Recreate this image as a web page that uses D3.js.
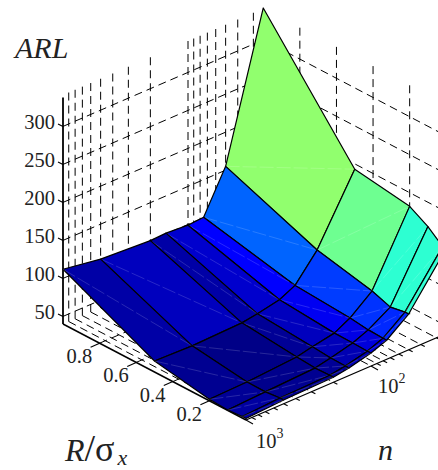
<!DOCTYPE html>
<html>
<head>
<meta charset="utf-8">
<script src="https://cdn.jsdelivr.net/npm/d3@7/dist/d3.min.js"></script>
<style>html,body{margin:0;padding:0;background:#fff}svg{display:block}text{fill:#222;font-family:"Liberation Serif",serif}</style>
</head>
<body>
<svg id="chart" width="438" height="470"></svg>
<script>
const ratioValues = [1, 0.5, 0.2, 0.1, 0.02, 0];
const sampleSizes = [1000, 500, 200, 150, 100, 75, 50, 25];
const arlValues = [
  [112, 104, 100, 101, 99, 100.5, 155, 342],
  [54.5, 53, 55, 58, 64, 74, 108, 193],
  [42, 43.4, 48, 52.5, 58, 69, 92, 182],
  [40.5, 43, 46, 50.5, 57.6, 66, 83.5, 168],
  [42, 45, 46.6, 50, 57, 65, 87, 152],
  [42, 45, 46.6, 50, 57, 65, 87, 152]
];
const colorLevels = [
  [0.037, 0.061, 0.037, 0.076, 0.125, 0.223, 0.517],
  [0.017, 0.007, 0.022, 0.061, 0.112, 0.184, 0.483],
  [0.022, 0.012, 0.022, 0.056, 0.1, 0.174, 0.419],
  [0.032, 0.017, 0.022, 0.05, 0.09, 0.164, 0.419],
  [0.032, 0.017, 0.022, 0.05, 0.09, 0.164, 0.419]
];
const arlTicks = [50, 100, 150, 200, 250, 300];
const ratioTicks = [0.2, 0.4, 0.6, 0.8];
const majorN = [1000, 100];
const minorN = [900, 800, 700, 600, 500, 400, 300, 200, 90, 80, 70, 60, 50, 40, 30, 20, 10];
const wallN = [900, 800, 700, 600, 500, 400, 300, 200, 100, 90, 80, 70, 60, 50, 40, 30];

const Z_MIN = 40, Z_MAX = 342, N_MIN = 25;
const rx = d3.scaleLinear().domain([0, 1]).range([0, -183]);
const ry = d3.scaleLinear().domain([0, 1]).range([0, -96]);
const nx = d3.scaleLog().domain([1000, 100]).range([0, 125]);
const ny = d3.scaleLog().domain([1000, 100]).range([0, -54]);
const zy = d3.scaleLinear().domain([Z_MIN, 340]).range([0, -228]);
const P = (r, n, z) => [246 + rx(r) + nx(n), 420 + ry(r) + ny(n) + zy(z)];

const jet = d3.scaleLinear()
  .domain([0, 0.125, 0.375, 0.625, 0.875, 1])
  .range(["#000080", "#0000ff", "#00ffff", "#ffff00", "#ff0000", "#800000"])
  .interpolate(d3.interpolateRgb);

const svg = d3.select("#chart");
const line = d3.line();
const seg = (g, a, b) => g.append("path").attr("d", line([a, b]));

// grid
const grid = svg.append("g").attr("fill", "none").attr("stroke", "#000")
  .attr("stroke-width", 1).attr("stroke-dasharray", "8,5");
wallN.forEach(n => seg(grid, P(1, n, Z_MIN), P(1, n, Z_MAX)));
ratioTicks.forEach(r => seg(grid, P(r, N_MIN, Z_MIN), P(r, N_MIN, Z_MAX)));
arlTicks.forEach(z => {
  seg(grid, P(1, 1000, z), P(1, N_MIN, z));
  seg(grid, P(1, N_MIN, z), P(0, N_MIN, z));
});
wallN.forEach(n => seg(grid, P(1, n, Z_MIN), P(0, n, Z_MIN)));
ratioTicks.forEach(r => seg(grid, P(r, 1000, Z_MIN), P(r, N_MIN, Z_MIN)));

// axes
const axes = svg.append("g").attr("fill", "none").attr("stroke", "#000").attr("stroke-width", 1.1);
seg(axes, P(1, 1000, Z_MIN), P(1, 1000, Z_MAX - 4)).attr("stroke-width", 1.8);
seg(axes, P(1, 1000, Z_MIN), P(0, 1000, Z_MIN)).attr("stroke-width", 1.5);
seg(axes, P(0, 1000, Z_MIN), P(0, N_MIN, Z_MIN)).attr("stroke-width", 1.2);
arlTicks.forEach(z => { const p = P(1, 1000, z); seg(axes, p, [p[0] - 5, p[1] - 2.5]); });
ratioTicks.forEach(r => { const p = P(r, 1000, Z_MIN); seg(axes, p, [p[0] - 9, p[1] + 4]); });
majorN.forEach(n => { const p = P(0, n, Z_MIN); seg(axes, p, [p[0] + 7, p[1] + 4]); });
minorN.forEach(n => { const p = P(0, n, Z_MIN); seg(axes, p, [p[0] + 4, p[1] + 2]); });

// surface, back to front
const faces = [];
for (let i = 0; i < ratioValues.length - 1; i++) {
  for (let j = sampleSizes.length - 2; j >= 0; j--) {
    faces.push({ i, j });
  }
}
const v = (i, j) => P(ratioValues[i], sampleSizes[j], arlValues[i][j]);
const surface = svg.append("g");
surface.selectAll("g.face").data(faces).join("g").attr("class", "face").each(function (d) {
  const g = d3.select(this);
  const corners = [v(d.i, d.j), v(d.i, d.j + 1), v(d.i + 1, d.j + 1), v(d.i + 1, d.j)];
  g.append("path").attr("d", line(corners) + "Z")
    .attr("fill", jet(colorLevels[d.i][d.j]))
    .attr("stroke", "#000").attr("stroke-width", 1.2).attr("stroke-linejoin", "round");
  g.append("path").attr("d", line([corners[0], corners[2]]))
    .attr("fill", "none").attr("stroke", "#fff").attr("stroke-opacity", 0.2)
    .attr("stroke-width", 0.8).attr("stroke-dasharray", "14,3");
});

// tick labels
const tickG = svg.append("g").attr("font-size", 20.5);
tickG.selectAll("text.z").data(arlTicks).join("text").attr("class", "z")
  .attr("x", z => P(1, 1000, z)[0] - 8).attr("y", z => P(1, 1000, z)[1] + 3)
  .attr("text-anchor", "end").text(d => d);
tickG.selectAll("text.r").data(ratioTicks).join("text").attr("class", "r")
  .attr("x", r => P(r, 1000, Z_MIN)[0] - 33).attr("y", r => P(r, 1000, Z_MIN)[1] + 20)
  .text(d => d.toFixed(1));
const powerLabels = tickG.selectAll("text.n").data(majorN).join("text").attr("class", "n")
  .attr("x", n => P(0, n, Z_MIN)[0] + (n === 1000 ? 10 : 7))
  .attr("y", n => P(0, n, Z_MIN)[1] + (n === 1000 ? 28 : 27));
powerLabels.append("tspan").text("10");
powerLabels.append("tspan").attr("font-size", 14).attr("dy", -10).text(n => Math.round(Math.log10(n)));

// axis titles
const title = svg.append("g").attr("font-size", 30);
title.append("text").attr("x", 15).attr("y", 58).attr("font-style", "italic").text("ARL");
title.append("text").attr("x", 378).attr("y", 460).attr("font-style", "italic").text("n");
const rLabel = title.append("text").attr("x", 65).attr("y", 461);
rLabel.append("tspan").attr("font-style", "italic").attr("font-size", 32).text("R");
rLabel.append("tspan").attr("font-size", 38).text("/");
rLabel.append("tspan").attr("font-size", 36).text("σ");
rLabel.append("tspan").attr("font-style", "italic").attr("font-size", 22).attr("dx", 3).attr("dy", 4).text("x");
</script>
</body>
</html>
